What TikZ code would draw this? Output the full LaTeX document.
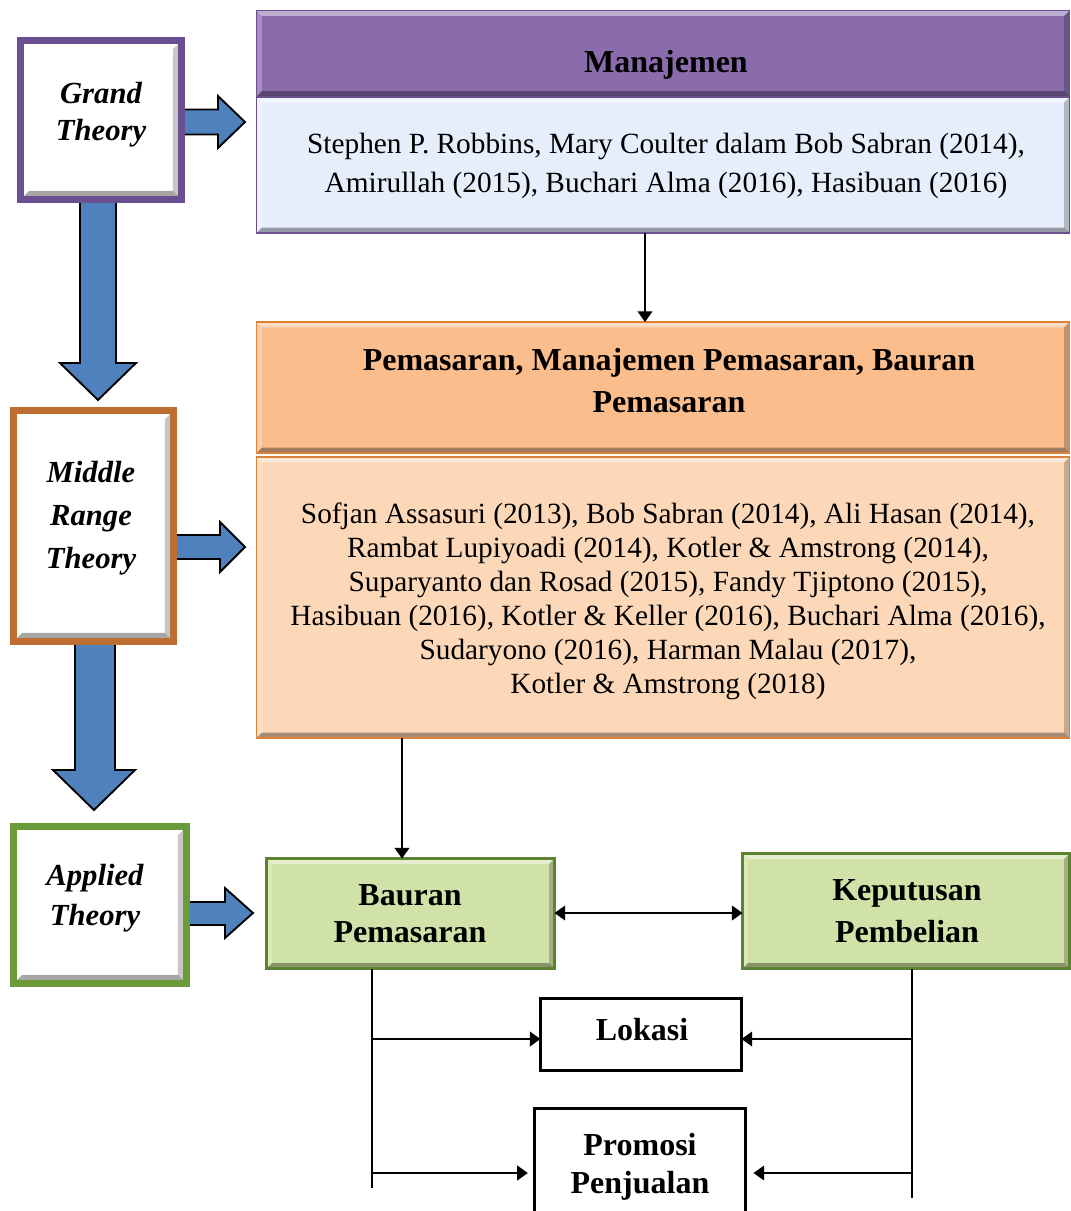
\documentclass[tikz,border=0pt]{standalone}
\usepackage{fontspec}
\setmainfont{Liberation Serif}
\usetikzlibrary{arrows.meta}
\definecolor{purpH}{HTML}{8A6CAD}
\definecolor{purpE}{HTML}{6A4F91}
\definecolor{blueB}{HTML}{E6EEFC}
\definecolor{orgH}{HTML}{FBBD8C}
\definecolor{orgB}{HTML}{FDD8B8}
\definecolor{orgE}{HTML}{DE8238}
\definecolor{grnF}{HTML}{D1E2A8}
\definecolor{grnE}{HTML}{6B9A3A}
\definecolor{arrBlue}{HTML}{4F81BD}
\tikzset{
  px/.style 2 args={minimum width=#1*0.75pt, minimum height=#2*0.75pt, inner sep=0pt, outer sep=0pt},
  bevel/.style={path picture={
    \fill[white,opacity=.45] (path picture bounding box.north west) -- (path picture bounding box.north east) -- ([shift={(-#1,-#1)}]path picture bounding box.north east) -- ([shift={(#1,-#1)}]path picture bounding box.north west) -- cycle;
    \fill[white,opacity=.25] (path picture bounding box.north west) -- ([shift={(#1,-#1)}]path picture bounding box.north west) -- ([shift={(#1,#1)}]path picture bounding box.south west) -- (path picture bounding box.south west) -- cycle;
    \fill[black,opacity=.35] (path picture bounding box.south west) -- ([shift={(#1,#1)}]path picture bounding box.south west) -- ([shift={(-#1,#1)}]path picture bounding box.south east) -- (path picture bounding box.south east) -- cycle;
    \fill[black,opacity=.22] (path picture bounding box.south east) -- ([shift={(-#1,#1)}]path picture bounding box.south east) -- ([shift={(-#1,-#1)}]path picture bounding box.north east) -- (path picture bounding box.north east) -- cycle;
  }},
  bevel/.default=4pt,
  theorybox/.style={fill=white, line width=5.5pt, bevel=6.5pt},
  bigbox/.style={line width=1.2pt, bevel},
  greenbox/.style={fill=grnF, draw=grnE!85!black, line width=2pt, bevel},
  plainbox/.style={fill=white, draw=black, line width=2.25pt},
  theorytext/.style={anchor=base, align=center, inner sep=0pt, font=\fontsize{23}{#1}\selectfont\bfseries\itshape},
  titletext/.style={anchor=base, align=center, inner sep=0pt, font=\fontsize{24}{#1}\selectfont\bfseries},
  bodytext/.style={anchor=base, align=center, inner sep=0pt, font=\fontsize{22}{#1}\selectfont},
  blockarrow/.style={fill=arrBlue, draw=black, line width=1.4pt, line join=miter},
  tip/.style={},
  conn/.style={line width=1.5pt, -{Triangle[length=8pt,width=11pt]}},
  dblconn/.style={line width=1.5pt, {Triangle[length=8pt,width=11pt]}-{Triangle[length=8pt,width=11pt]}},
  trunk/.style={line width=1pt},
}
\begin{document}
\begin{tikzpicture}[x=0.75pt,y=-0.75pt]
\useasboundingbox (0,0) rectangle (1071,1211);

% block arrows (drawn first, boxes cover their tails)
\draw[blockarrow] (178,109.5) -- (218,109.5) -- (218,96) -- (245,122) -- (218,148) -- (218,134.5) -- (178,134.5) -- cycle;
\draw[blockarrow] (80,195) -- (80,363) -- (60,363) -- (98,400) -- (136,363) -- (116,363) -- (116,195) -- cycle;
\draw[blockarrow] (170,535) -- (220,535) -- (220,522) -- (245,547) -- (220,572) -- (220,559) -- (170,559) -- cycle;
\draw[blockarrow] (75,638) -- (75,770) -- (53,770) -- (94,810) -- (135,770) -- (115,770) -- (115,638) -- cycle;
\draw[blockarrow] (183,902) -- (225,902) -- (225,888) -- (253,913) -- (225,938) -- (225,925) -- (183,925) -- cycle;

% theory boxes
\node[theorybox, draw=purpE, px={161.3}{159.3}] (grand) at (101,120) {};
\node[theorybox, draw=orgE!85!black, px={160.3}{231.3}] (middle) at (93.5,526) {};
\node[theorybox, draw=grnE, px={173.3}{157.3}] (applied) at (100,905) {};
\node[theorytext=27.75pt] (grandT) at (101,140) {Grand\\Theory};
\node[theorytext=32pt] (middleT) at (91,568) {Middle\\Range\\Theory};
\node[theorytext=30pt] (appliedT) at (95,925) {Applied\\Theory};

% big boxes
\node[bigbox, fill=purpH, draw=purpE, px={813}{86}] (manH) at (663,53.5) {};
\node[bigbox, fill=blueB, draw=purpE, px={813}{136}] (manB) at (663,165) {};
\node[bigbox, fill=orgH, draw=orgE, px={813}{131}] (orH) at (663,387.5) {};
\node[bigbox, fill=orgB, draw=orgE, px={813}{281}] (orB) at (663,597.5) {};
\node[titletext=31.5pt] (manT) at (666,72) {Manajemen};
\node[bodytext=29pt] (manBT) at (666,192) {Stephen P. Robbins, Mary Coulter dalam Bob Sabran (2014),\\Amirullah (2015), Buchari Alma (2016), Hasibuan (2016)};
\node[titletext=31.5pt] (orHT) at (669,412) {Pemasaran, Manajemen Pemasaran, Bauran\\Pemasaran};
\node[bodytext=25.5pt] (orBT) at (668,693) {Sofjan Assasuri (2013), Bob Sabran (2014), Ali Hasan (2014),\\Rambat Lupiyoadi (2014), Kotler \& Amstrong (2014),\\Suparyanto dan Rosad (2015), Fandy Tjiptono (2015),\\Hasibuan (2016), Kotler \& Keller (2016), Buchari Alma (2016),\\Sudaryono (2016), Harman Malau (2017),\\Kotler \& Amstrong (2018)};

% applied level boxes
\node[greenbox, px={288}{110}] (bau) at (410.5,913.5) {};
\node[greenbox, px={327}{115}] (kep) at (906,911) {};
\node[plainbox, px={201}{72}] (lok) at (641,1034.5) {};
\node[plainbox, px={211}{107.5}] (pro) at (640,1162.25) {};
\node[titletext=27.75pt] (bauT) at (410,942) {Bauran\\Pemasaran};
\node[titletext=31.5pt] (kepT) at (907,942) {Keputusan\\Pembelian};
\node[titletext=30pt] (lokT) at (642,1040) {Lokasi};
\node[titletext=28.5pt] (proT) at (640,1193) {Promosi\\Penjualan};

% helper coordinates
\coordinate (xA) at (645,0);
\coordinate (xB) at (402,0);
\coordinate (xL) at (372,0);
\coordinate (xR) at (912,0);
\coordinate (yL) at (0,1188);
\coordinate (yR) at (0,1198);
\coordinate (yLok) at (0,1039);
\coordinate (yPro) at (0,1173);
\coordinate (yMid) at (0,913);
\coordinate (proL) at ([xshift=-5pt]pro.west);
\coordinate (proR) at ([xshift=6pt]pro.east);

% connectors
\draw[conn] (manB.south -| xA) -- (orH.north -| xA);
\draw[conn] (orB.south -| xB) -- (bau.north -| xB);
\draw[dblconn] (bau.east |- yMid) -- (kep.west |- yMid);
\draw[trunk] (bau.south -| xL) -- (xL |- yL);
\draw[trunk] (kep.south -| xR) -- (xR |- yR);
\draw[conn] (xL |- yLok) -- (lok.west |- yLok);
\draw[conn] (xR |- yLok) -- (lok.east |- yLok);
\draw[conn] (xL |- yPro) -- (proL |- yPro);
\draw[conn] (xR |- yPro) -- (proR |- yPro);
\end{tikzpicture}
\end{document}
